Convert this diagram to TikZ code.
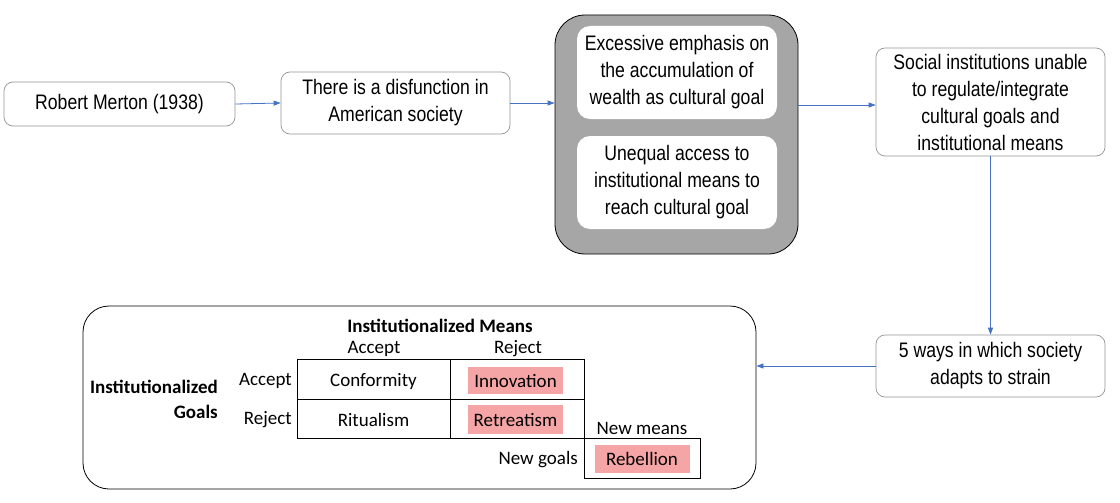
\documentclass[tikz,border=0pt]{standalone}
\usepackage{fontspec}
\setmainfont{Liberation Sans}
\newfontfamily\arialn{Liberation Sans}[FakeStretch=0.84]
\newfontfamily\calib{Carlito}
\usetikzlibrary{arrows.meta}
\definecolor{arrowblue}{RGB}{68,114,196}
\definecolor{boxgray}{RGB}{166,166,166}
\definecolor{edgegray}{RGB}{150,150,150}
\definecolor{pinkfill}{RGB}{245,165,165}
\tikzset{
  flowbox/.style={draw=edgegray, line width=0.7pt, rounded corners=9pt, fill=white, align=center,
    font=\arialn\fontsize{21}{27}\selectfont, inner sep=0pt},
  innerbox/.style={draw=none, rounded corners=13pt, fill=white, align=center,
    font=\arialn\fontsize{21}{27}\selectfont, inner sep=0pt, minimum width=200pt, minimum height=93pt},
  conn/.style={draw=arrowblue, line width=0.8pt, -{Triangle[length=7pt,width=5pt]}},
  cell/.style={draw=black, line width=0.8pt, minimum height=40pt, inner sep=0pt},
  hl/.style={fill=pinkfill, inner sep=0pt, minimum width=95pt},
  tab/.style={font=\calib\fontsize{19}{21}\selectfont, inner sep=0pt},
  tabb/.style={font=\calib\bfseries\fontsize{19}{21}\selectfont, inner sep=0pt},
}
\begin{document}
\begin{tikzpicture}[x=1pt,y=-1pt]
\useasboundingbox[fill=white] (0,0) rectangle (1120,503);

\node[flowbox, minimum width=231pt, minimum height=44pt] (merton) at (119.5,104) {Robert Merton (1938)};
\node[flowbox, minimum width=229pt, minimum height=62pt] (disf) at (395.5,103) {There is a disfunction in\\American society};
\node[draw=black, line width=0.8pt, fill=boxgray, rounded corners=30pt, minimum width=243pt, minimum height=239pt] (gray) at (676.5,134.5) {};
\node[innerbox] (wealth) at (677,72.5) {Excessive emphasis on\\the accumulation of\\wealth as cultural goal};
\node[innerbox] (access) at (677,182.5) {Unequal access to\\institutional means to\\reach cultural goal};
\node[flowbox, minimum width=229pt, minimum height=108pt] (social) at (990.5,102) {Social institutions unable\\to regulate/integrate\\cultural goals and\\institutional means};
\node[flowbox, minimum width=229pt, minimum height=62pt] (ways) at (990.5,366) {5 ways in which society\\adapts to strain};
\node[draw=black, line width=0.8pt, rounded corners=26pt, minimum width=673pt, minimum height=183pt] (big) at (419.5,397.5) {};

\draw[conn] (merton.east) -- (disf.west);
\draw[conn] (disf.east) -- (gray.west |- disf.east);
\coordinate (gs) at (gray.east |- 0,105);
\draw[conn] (gs) -- (social.west |- gs);
\draw[conn] (social.south) -- (ways.north);
\draw[conn] (ways.west) -- (big.east |- ways.west);

% table
\node[cell, minimum width=153pt] (conf) at (373.5,379) {};
\node[cell, minimum width=134pt] (innc) at (517,379) {};
\node[cell, minimum width=153pt, minimum height=39pt] (ritc) at (373.5,418.5) {};
\node[cell, minimum width=134pt, minimum height=39pt] (retc) at (517,418.5) {};
\node[cell, minimum width=116pt] (rebc) at (642,458) {};

\node[tab] (conft) at (373.5,381) {Conformity};
\node[tab] (ritt) at (373.5,420) {Ritualism};
\node[tab, hl, minimum height=27pt] (innt) at (515.5,380.5) {Innovation};
\node[tab, hl, minimum height=29pt] (rett) at (515.5,419.5) {Retreatism};
\node[tab, hl, minimum height=28pt] (rebt) at (642,459) {Rebellion};

\node[tabb] (imeans) at (440,326) {Institutionalized Means};
\node[tab] (acol) at (374,349) {Accept};
\node[tab] (rcol) at (518,349) {Reject};
\node[tab, anchor=east] (arow) at (292,381) {Accept};
\node[tab, anchor=east] (rrow) at (292,420) {Reject};
\node[tabb, anchor=east] (igoals) at (218,387) {Institutionalized};
\node[tabb, anchor=east] (goals) at (218,412) {Goals};
\node[tab] (nmeans) at (642,428) {New means};
\node[tab, anchor=east] (ngoals) at (578,460) {New goals};
\end{tikzpicture}
\end{document}
